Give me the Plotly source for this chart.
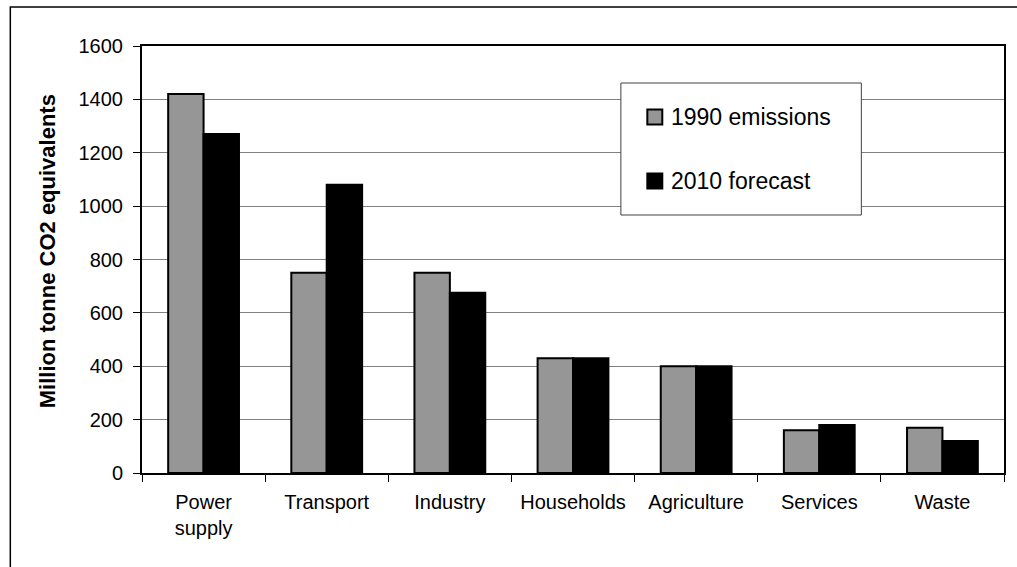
import plotly.graph_objects as go

# Emissions by sector, million tonnes CO2 equivalent
sectors = ["Power<br>supply", "Transport", "Industry", "Households",
           "Agriculture", "Services", "Waste"]
emissions_1990 = [1420, 750, 750, 430, 400, 160, 170]
forecast_2010 = [1270, 1080, 675, 430, 400, 180, 120]

series_names = ["1990 emissions", "2010 forecast"]
series_colors = ["#969696", "#000000"]

y_ticks = [0, 200, 400, 600, 800, 1000, 1200, 1400, 1600]

W, H = 1017, 567
L, R, T, B = 142, 11, 46, 94
PW, PH = W - L - R, H - T - B


def px_x(px):
    return (px - L) / PW


def px_y(py):
    return (H - B - py) / PH


FONT = "Arial, Liberation Sans, sans-serif"

fig = go.Figure()
for name, vals, col in zip(series_names, [emissions_1990, forecast_2010], series_colors):
    fig.add_trace(go.Bar(
        x=sectors, y=vals, name=name,
        marker=dict(color=col, line=dict(color="#000000", width=2)),
        showlegend=False,
    ))

shapes = [
    # outer chart frame
    dict(type="rect", xref="paper", yref="paper",
         x0=px_x(10), x1=px_x(1025), y0=px_y(575), y1=px_y(7),
         line=dict(color="#000000", width=1.5), fillcolor="rgba(0,0,0,0)",
         layer="above"),
    # legend box
    dict(type="rect", xref="paper", yref="paper",
         x0=px_x(622), x1=px_x(863), y0=px_y(215), y1=px_y(83),
         line=dict(color="#404040", width=1), fillcolor="#ffffff",
         layer="above"),
]
annotations = [
    dict(text="<b>Million tonne CO2 equivalents</b>", textangle=-90,
         xref="paper", yref="paper", x=px_x(47), y=px_y(251),
         xanchor="center", yanchor="middle", showarrow=False,
         font=dict(family=FONT, size=22, color="#000000")),
]

legend_rows = [117, 181]
for name, col, cy in zip(series_names, series_colors, legend_rows):
    shapes.append(dict(type="rect", xref="paper", yref="paper",
                       x0=px_x(648.5), x1=px_x(663.5),
                       y0=px_y(cy + 7.5), y1=px_y(cy - 7.5),
                       line=dict(color="#000000", width=2), fillcolor=col,
                       layer="above"))
    annotations.append(dict(text=name, xref="paper", yref="paper",
                            x=px_x(670), y=px_y(cy), xanchor="left",
                            yanchor="middle", showarrow=False,
                            font=dict(family=FONT, size=23, color="#000000")))

fig.update_layout(
    width=W, height=H,
    margin=dict(l=L, r=R, t=T, b=B),
    paper_bgcolor="#ffffff", plot_bgcolor="#ffffff",
    barmode="group", bargap=0.425, bargroupgap=0,
    font=dict(family=FONT, size=20, color="#000000"),
    shapes=shapes, annotations=annotations,
    showlegend=False,
)
fig.update_xaxes(
    showline=True, linecolor="#000000", linewidth=2, mirror=True,
    ticks="outside", tickson="boundaries", ticklen=7, tickcolor="#000000",
    tickwidth=1, showgrid=False, ticklabelstandoff=10,
    tickfont=dict(family=FONT, size=20, color="#000000"),
)
fig.update_yaxes(
    range=[0, 1600], tickvals=y_ticks, ticktext=[str(v) for v in y_ticks],
    showline=True, linecolor="#000000", linewidth=2, mirror=True,
    ticks="outside", ticklen=7, tickcolor="#000000", tickwidth=1,
    showgrid=True, gridcolor="#808080", gridwidth=1, zeroline=False,
    ticklabelstandoff=6,
    tickfont=dict(family=FONT, size=20, color="#000000"),
)

fig.write_html("out.html")
